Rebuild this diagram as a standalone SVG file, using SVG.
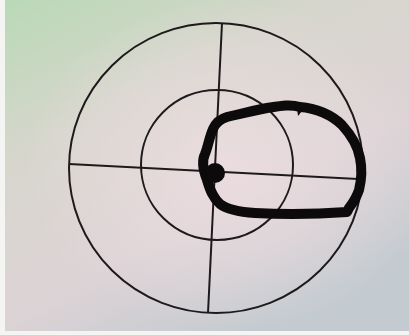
<svg xmlns="http://www.w3.org/2000/svg" width="409" height="335" viewBox="0 0 409 335">
<defs>
<linearGradient id="bg" x1="0" y1="0" x2="0.6" y2="1">
<stop offset="0" stop-color="#b9d9b6"/>
<stop offset="0.35" stop-color="#d6d6cc"/>
<stop offset="0.7" stop-color="#ddd3d6"/>
<stop offset="1" stop-color="#c4cbd0"/>
</linearGradient>
<radialGradient id="glow" cx="0.55" cy="0.5" r="0.5">
<stop offset="0" stop-color="#ecdde0" stop-opacity="0.9"/>
<stop offset="1" stop-color="#ecdde0" stop-opacity="0"/>
</radialGradient>
<style>
.ln{fill:none;stroke:#1e1a1c;stroke-width:2}
.blob{fill:none;stroke:#0c0a0b;stroke-width:10;stroke-linejoin:round;stroke-linecap:round}
</style>
</defs>
<rect width="409" height="335" fill="#f4f4f2"/>
<rect x="5" y="0" width="404" height="331" fill="url(#bg)"/>
<rect x="5" y="0" width="404" height="331" fill="url(#glow)"/>
<g id="target">
<ellipse class="ln" cx="216" cy="168" rx="147" ry="145"/>
<ellipse class="ln" cx="217" cy="165" rx="76" ry="75"/>
<line class="ln" x1="69" y1="164" x2="358" y2="179"/>
<line class="ln" x1="222" y1="23" x2="208" y2="313"/>
</g>
<g id="mark">
<path class="blob" d="M207,180 C203,170 202,160 205,154 C208,147 209,138 213,129 C216,122 220,119 227,117 C240,114 252,111 267,108 C280,106 290,104 300,107 C316,108 332,115 342,125 C352,136 358,147 360,158 C362,168 362,178 359,190 C356,199 352,204 349,208 L347,212 C320,214 290,215 255,213 C240,212 228,210 220,204 C213,198 210,190 207,180 Z"/>
<path d="M297,108 L298,116 L302,111 Z" fill="#0c0a0b"/>
<circle cx="215" cy="173" r="10" fill="#0c0a0b"/>
</g>
</svg>
